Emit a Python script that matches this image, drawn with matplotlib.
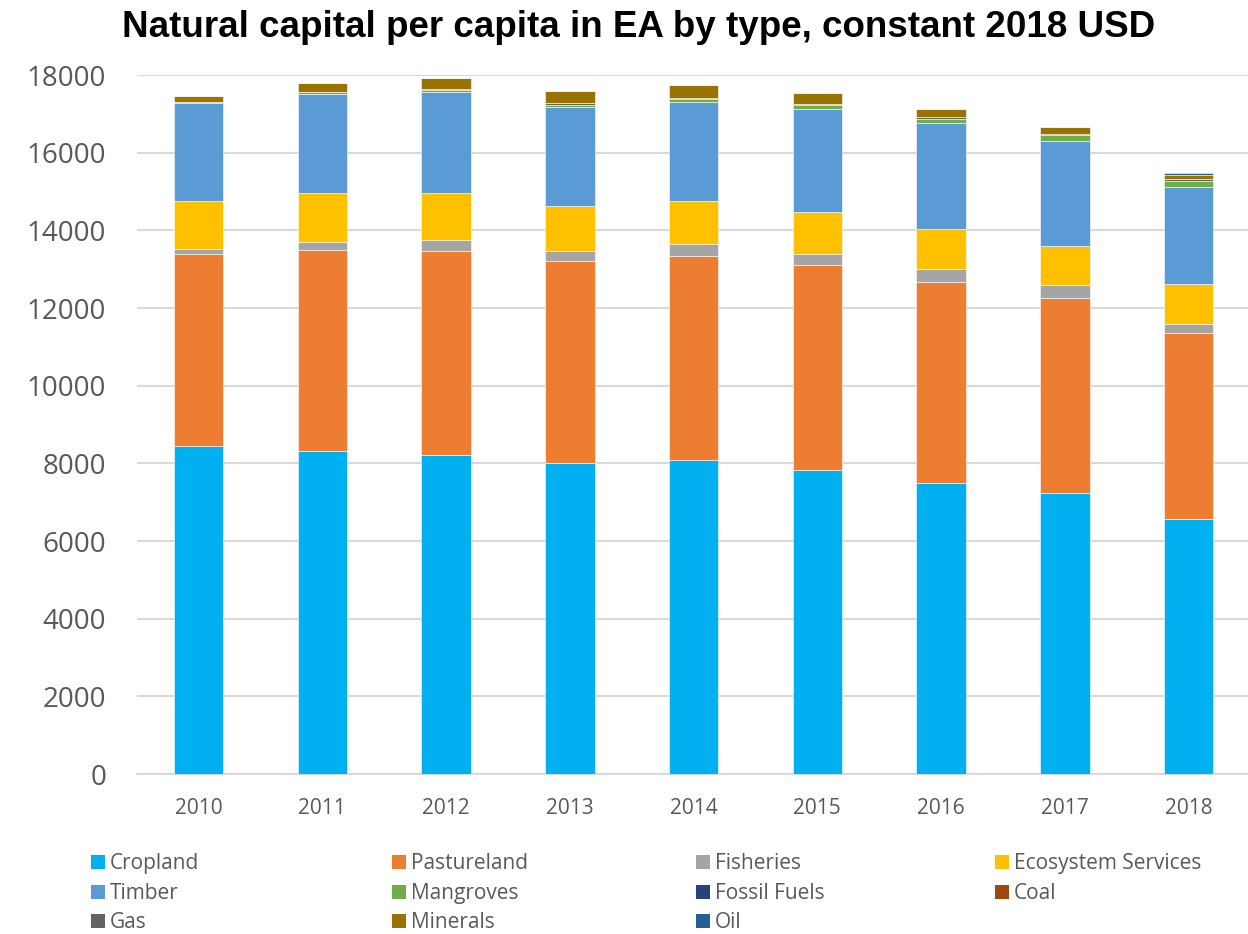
import numpy as np
import matplotlib.pyplot as plt
from matplotlib.patches import Rectangle

years = ['2010', '2011', '2012', '2013', '2014', '2015', '2016', '2017', '2018']

cropland = [8440, 8320, 8215, 8000, 8085, 7830, 7495, 7235, 6565]
pastureland = [4940, 5180, 5250, 5210, 5245, 5270, 5180, 5015, 4785]
fisheries = [140, 205, 290, 265, 325, 285, 320, 335, 250]
ecosystem = [1235, 1245, 1195, 1150, 1100, 1080, 1045, 1020, 1030]
timber = [2530, 2565, 2620, 2555, 2555, 2650, 2715, 2695, 2480]
mangroves = [20, 40, 50, 60, 75, 100, 120, 155, 165]
fossil_fuels = [0, 0, 0, 0, 0, 0, 0, 0, 0]
coal = [0, 0, 0, 0, 0, 0, 0, 0, 0]
gas = [10, 15, 30, 30, 30, 40, 35, 25, 35]
minerals = [145, 235, 270, 330, 340, 290, 215, 180, 120]
oil = [0, 0, 0, 0, 0, 0, 0, 0, 35]

series = [
    ('Cropland', cropland, '#00B0F0'),
    ('Pastureland', pastureland, '#ED7D31'),
    ('Fisheries', fisheries, '#A5A5A5'),
    ('Ecosystem Services', ecosystem, '#FFC000'),
    ('Timber', timber, '#5B9BD5'),
    ('Mangroves', mangroves, '#70AD47'),
    ('Fossil Fuels', fossil_fuels, '#264478'),
    ('Coal', coal, '#9E480E'),
    ('Gas', gas, '#636363'),
    ('Minerals', minerals, '#997300'),
    ('Oil', oil, '#255E91'),
]

txt = '#595959'

fig = plt.figure(figsize=(12.48, 9.34), dpi=100)
ax = fig.add_axes([0.1095, 0.1713, 0.8925, 0.7484])

x = np.arange(len(years))
bottom = np.zeros(len(years))
for name, vals, col in series:
    vals = np.array(vals, dtype=float)
    ax.bar(x, vals, 0.4, bottom=bottom, color=col, edgecolor='white',
           linewidth=0.4, zorder=3)
    bottom += vals

ax.set_xlim(-0.5, len(years) - 0.5)
ax.set_ylim(0, 18000)
ax.set_yticks(range(0, 18001, 2000))
ax.set_xticks(x)
ax.set_xticklabels(years, fontsize=15, color=txt, family='Open Sans')
for lab in ax.get_yticklabels():
    lab.set_fontsize(20)
    lab.set_family('Open Sans')
    lab.set_color(txt)
ax.tick_params(length=0)
ax.tick_params(axis='x', pad=17)
ax.tick_params(axis='y', pad=22)
ax.grid(axis='y', color='#D9D9D9', linewidth=1.5, zorder=0)
for s in ['top', 'right', 'left']:
    ax.spines[s].set_visible(False)
ax.spines['bottom'].set_color('#D9D9D9')
ax.spines['bottom'].set_linewidth(1.5)

fig.text(0.512, 0.9705, 'Natural capital per capita in EA by type, constant 2018 USD',
         ha='center', va='center', fontsize=26.5, fontweight='bold',
         family='Liberation Sans', color='black')

# legend, four entries per row
col_x = [91, 392, 696, 995]
row_y = [862, 892, 921]
W, H = 1248.0, 934.0
for i, (name, vals, col) in enumerate(series):
    r, c = divmod(i, 4)
    px, py = col_x[c], row_y[r]
    fig.add_artist(Rectangle((px / W, 1 - (py + 7) / H), 14 / W, 14 / H,
                             transform=fig.transFigure, facecolor=col,
                             edgecolor='none'))
    fig.text((px + 19) / W, 1 - (py + 7) / H, name, ha='left', va='baseline',
             fontsize=15, family='Open Sans', color=txt)

fig.savefig('out.png', dpi=100)
